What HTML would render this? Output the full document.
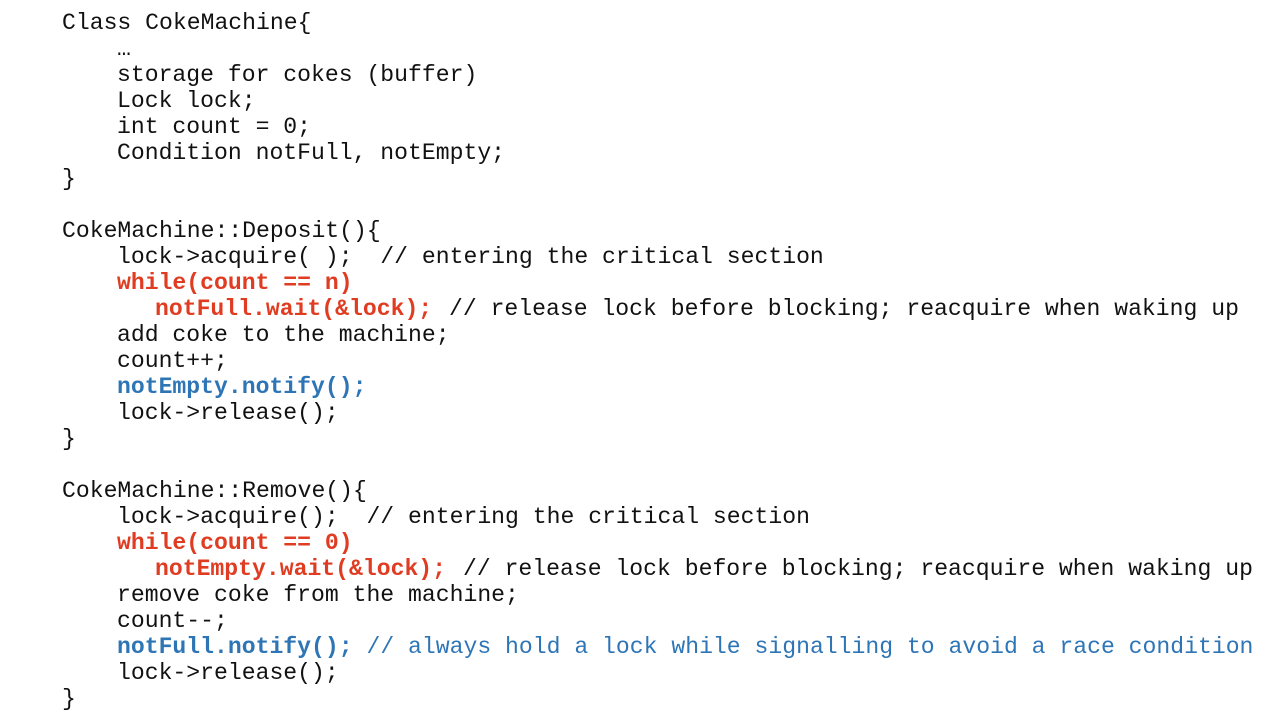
<!DOCTYPE html>
<html><head><meta charset="utf-8"><style>
body{margin:0;width:1272px;height:728px;background:#fff;overflow:hidden;position:relative;font-family:"Liberation Mono",monospace;font-size:23.1px;color:#111}
.l{position:absolute;white-space:pre;line-height:26px;height:26px;margin-top:1px}
.r{color:#e03c22;font-weight:bold}
.b{color:#2e75b6;font-weight:bold}
.bn{color:#2e75b6}
</style></head><body>
<div class="l" style="left:62px;top:9px">Class CokeMachine{</div>
<div class="l" style="left:117px;top:35px">…</div>
<div class="l" style="left:117px;top:61px">storage for cokes (buffer)</div>
<div class="l" style="left:117px;top:87px">Lock lock;</div>
<div class="l" style="left:117px;top:113px">int count = 0;</div>
<div class="l" style="left:117px;top:139px">Condition notFull, notEmpty;</div>
<div class="l" style="left:62px;top:165px">}</div>
<div class="l" style="left:62px;top:217px">CokeMachine::Deposit(){</div>
<div class="l" style="left:117px;top:243px">lock-&gt;acquire( );  // entering the critical section</div>
<div class="l r" style="left:117px;top:269px">while(count == n)</div>
<div class="l r" style="left:155px;top:295px">notFull.wait(&amp;lock);</div>
<div class="l" style="left:449px;top:295px">// release lock before blocking; reacquire when waking up</div>
<div class="l" style="left:117px;top:321px">add coke to the machine;</div>
<div class="l" style="left:117px;top:347px">count++;</div>
<div class="l b" style="left:117px;top:373px">notEmpty.notify();</div>
<div class="l" style="left:117px;top:399px">lock-&gt;release();</div>
<div class="l" style="left:62px;top:425px">}</div>
<div class="l" style="left:62px;top:477px">CokeMachine::Remove(){</div>
<div class="l" style="left:117px;top:503px">lock-&gt;acquire();  // entering the critical section</div>
<div class="l r" style="left:117px;top:529px">while(count == 0)</div>
<div class="l r" style="left:155px;top:555px">notEmpty.wait(&amp;lock);</div>
<div class="l" style="left:463px;top:555px">// release lock before blocking; reacquire when waking up</div>
<div class="l" style="left:117px;top:581px">remove coke from the machine;</div>
<div class="l" style="left:117px;top:607px">count--;</div>
<div class="l" style="left:117px;top:633px"><span class="b">notFull.notify();</span><span class="bn"> // always hold a lock while signalling to avoid a race condition</span></div>
<div class="l" style="left:117px;top:659px">lock-&gt;release();</div>
<div class="l" style="left:62px;top:685px">}</div>
</body></html>
